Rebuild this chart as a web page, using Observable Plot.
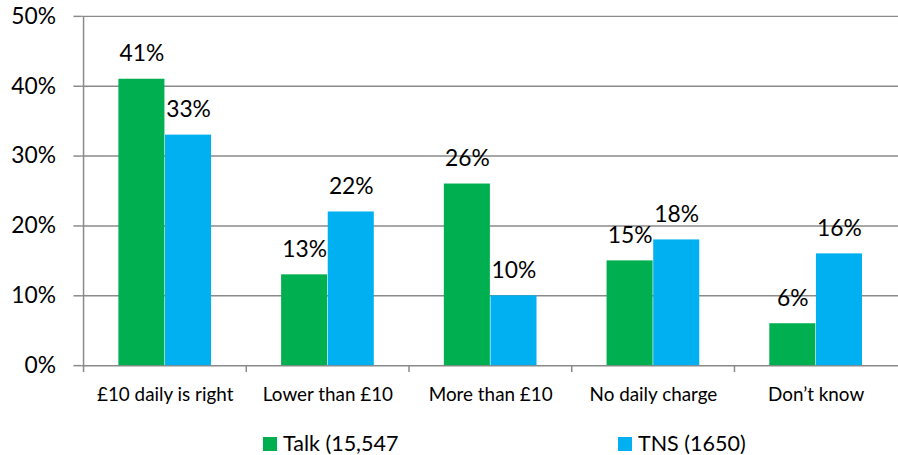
<!DOCTYPE html>
<html>
<head>
<meta charset="utf-8">
<script src="https://cdn.jsdelivr.net/npm/d3@7"></script>
<script src="https://cdn.jsdelivr.net/npm/@observablehq/plot@0.6"></script>
<style>
  html, body { margin: 0; padding: 0; background: #fff; overflow: hidden; }
  #chart { position: relative; width: 898px; height: 455px; }
  #chart svg { position: absolute; left: 0; top: 0; }
  .legend { position: absolute; left: 0; top: 433px; width: 898px;
            font-family: Lato, "Open Sans", sans-serif; font-size: 21.5px; line-height: 21px; color: #000; }
  .legend .item { position: absolute; top: 0; display: flex; align-items: center; gap: 6px; white-space: nowrap; }
  .legend .sw { width: 14px; height: 14px; display: inline-block; }
</style>
</head>
<body>
<div id="chart"></div>
<script>
// Survey answers on the daily charge, two samples side by side
const categories = ["£10 daily is right", "Lower than £10", "More than £10", "No daily charge", "Don’t know"];
const seriesNames = ["Talk (15,547", "TNS (1650)"];
const talkValues = [41, 13, 26, 15, 6];
const tnsValues = [33, 22, 10, 18, 16];
const yTicks = [0, 10, 20, 30, 40, 50];
const seriesColors = ["#00b050", "#00b0f0"];

const talkRows = categories.map((c, i) => ({category: c, series: seriesNames[0], value: talkValues[i]}));
const tnsRows = categories.map((c, i) => ({category: c, series: seriesNames[1], value: tnsValues[i]}));

const W = 905, H = 420;
const marginLeft = 82, marginRight = 0;
const step = (W - marginLeft - marginRight) / categories.length;
const barW = 47;
const grid = "#8a8a8a";
const font = "Lato, 'Open Sans', sans-serif";

const chart = Plot.plot({
  width: W,
  height: H,
  marginTop: 16,
  marginBottom: 52,
  marginLeft,
  marginRight,
  style: {fontFamily: font, background: "#fff", color: "#000"},
  x: {domain: categories, padding: 0, label: null},
  y: {domain: [0, 50], label: null},
  marks: [
    Plot.ruleY(yTicks, {y: d => d, stroke: grid, strokeWidth: 1.5}),
    Plot.ruleX([categories[0]], {x: d => d, dx: -step / 2, stroke: grid, strokeWidth: 1.5}),
    Plot.axisY({ticks: yTicks, tickSize: 8, tickFormat: () => "", label: null, stroke: grid, strokeWidth: 1.5}),
    Plot.axisY({ticks: yTicks, tickSize: 0, tickPadding: 26, tickFormat: d => d + "%", label: null, fontSize: 23, fill: "#000"}),
    Plot.axisX({tickSize: 7, tickFormat: () => "", label: null, dx: -step / 2, stroke: grid, strokeWidth: 1.5}),
    Plot.axisX({tickSize: 0, tickPadding: 22, label: null, fontSize: 19, fill: "#000"}),
    Plot.barY(talkRows, {x: "category", y: "value", fill: seriesColors[0],
      insetLeft: step / 2 - barW, insetRight: step / 2}),
    Plot.barY(tnsRows, {x: "category", y: "value", fill: seriesColors[1],
      insetLeft: step / 2, insetRight: step / 2 - barW}),
    Plot.text(talkRows, {x: "category", y: "value", text: d => d.value + "%", dx: -barW / 2, dy: -18,
      lineAnchor: "bottom", fontSize: 23, fill: "#000"}),
    Plot.text(tnsRows, {x: "category", y: "value", text: d => d.value + "%", dx: barW / 2, dy: -18,
      lineAnchor: "bottom", fontSize: 23, fill: "#000"})
  ]
});

const root = document.getElementById("chart");
root.appendChild(chart);

// Legend below the plot
const legend = document.createElement("div");
legend.className = "legend";
const legendLeft = [263, 618];
seriesNames.forEach((name, i) => {
  const item = document.createElement("div");
  item.className = "item";
  item.style.left = legendLeft[i] + "px";
  const sw = document.createElement("span");
  sw.className = "sw";
  sw.style.background = seriesColors[i];
  const label = document.createElement("span");
  label.textContent = name;
  item.appendChild(sw);
  item.appendChild(label);
  legend.appendChild(item);
});
root.appendChild(legend);
</script>
</body>
</html>
